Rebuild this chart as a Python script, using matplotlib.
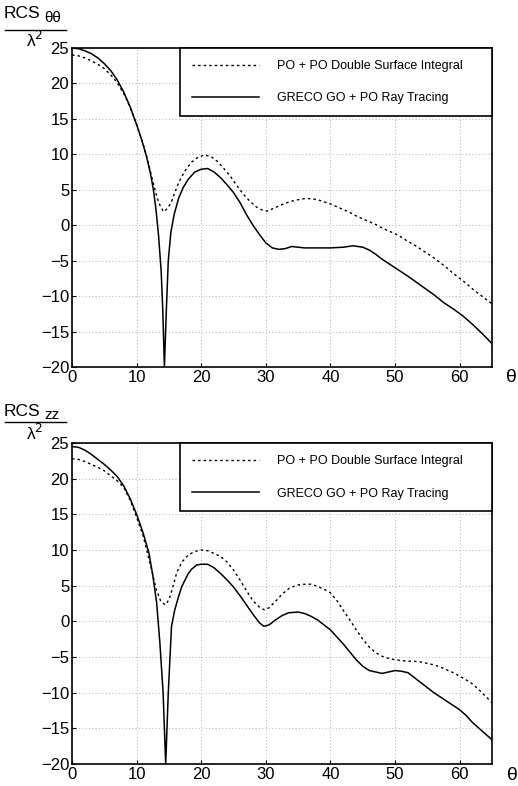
import matplotlib
matplotlib.use("Agg")
import matplotlib.pyplot as plt
from matplotlib.lines import Line2D

plt.rcParams["font.family"] = ["Liberation Sans", "DejaVu Sans"]

# --- RCS theta-theta (top panel) ---
tt_go_theta = [0, 1, 2, 3, 4, 5, 6, 7, 8, 9, 10, 10.8, 11.5, 12.1, 12.6, 13.0, 13.4, 13.8,
               14.05, 14.3, 14.6, 14.9, 15.3, 15.8, 16.5, 17.2, 18, 19, 20, 21, 22, 23,
               24, 25, 26, 27, 28, 29, 30, 31, 32, 33, 34, 35, 36, 38, 40, 42, 43.5, 45,
               46, 47, 48, 49, 50, 52, 54, 56, 57.5, 59, 60.5, 62, 63.5, 65]
tt_go_rcs = [25.0, 24.9, 24.6, 24.2, 23.6, 22.8, 21.8, 20.5, 18.8, 16.7, 14.2, 12.0, 9.8,
             7.5, 5.0, 2.2, -1.5, -6.5, -12.0, -20.0, -12.0, -5.0, -1.0, 1.5, 3.8, 5.3,
             6.5, 7.5, 7.9, 8.0, 7.5, 6.7, 5.7, 4.6, 3.2, 1.5, 0.0, -1.3, -2.5, -3.2,
             -3.4, -3.3, -3.0, -3.1, -3.2, -3.2, -3.2, -3.1, -2.9, -3.1, -3.5, -4.1,
             -4.8, -5.4, -6.0, -7.2, -8.5, -9.8, -10.9, -11.8, -12.8, -14.0, -15.3, -16.7]

tt_po_theta = [0, 1, 2, 3, 4, 5, 6, 7, 8, 9, 10, 10.8, 11.5, 12.1, 12.7, 13.2, 13.7,
               14.2, 14.8, 15.4, 15.9, 16.6, 17.5, 18.5, 19.5, 20.5, 21.5, 22.5, 23.5,
               24.6, 25.5, 26.5, 27.5, 28.5, 29.5, 30.2, 31, 32, 33, 34, 35, 36, 37, 38,
               39, 40, 41, 42, 43, 44, 45, 46, 47, 48, 49, 50, 51, 52, 53, 54, 55, 56, 57,
               58, 59, 60, 61, 62, 63, 64, 65]
tt_po_rcs = [24.0, 23.9, 23.6, 23.2, 22.7, 22.1, 21.2, 20.1, 18.6, 16.6, 14.2, 12.1, 9.9,
             7.7, 5.5, 3.8, 2.6, 1.9, 2.4, 3.3, 4.6, 6.2, 7.7, 8.9, 9.6, 9.9, 9.7, 9.0,
             8.0, 6.8, 5.6, 4.4, 3.4, 2.6, 2.1, 2.0, 2.3, 2.7, 3.1, 3.4, 3.6, 3.75, 3.75,
             3.6, 3.3, 3.0, 2.6, 2.2, 1.8, 1.3, 0.9, 0.5, 0.1, -0.4, -0.8, -1.2, -1.7,
             -2.3, -2.8, -3.4, -4.0, -4.6, -5.3, -6.0, -6.8, -7.5, -8.2, -9.0, -9.7,
             -10.4, -11.1]

# --- RCS zz (bottom panel) ---
zz_go_theta = [0, 1, 2, 3, 4, 5, 6, 7, 8, 9, 10, 11, 11.9, 12.5, 13.1, 13.6, 14.1, 14.5,
               14.9, 15.4, 15.9, 16.5, 17, 18, 18.5, 19.3, 20, 21, 22, 23, 24, 25, 26, 27,
               28, 29, 29.7, 30.5, 31.5, 32.5, 33.5, 35, 36, 37, 38, 39, 40, 41, 42, 43,
               44, 45, 46, 47, 48, 49, 50, 51, 52, 53, 54, 55, 56, 57, 58, 59, 60, 61, 62,
               63, 64, 65]
zz_go_rcs = [24.5, 24.4, 24.0, 23.4, 22.7, 22.0, 21.2, 20.3, 19.0, 17.2, 15.0, 12.4, 9.6,
             6.5, 2.6, -3.0, -10.0, -20.0, -10.0, -0.7, 1.6, 3.5, 4.9, 6.7, 7.3, 7.9,
             8.0, 8.0, 7.5, 6.7, 5.8, 4.8, 3.6, 2.3, 1.0, -0.2, -0.7, -0.5, 0.2, 0.8,
             1.2, 1.3, 1.1, 0.7, 0.2, -0.5, -1.2, -2.2, -3.2, -4.3, -5.4, -6.3, -6.9,
             -7.1, -7.3, -7.1, -6.9, -7.0, -7.2, -7.9, -8.6, -9.3, -10.0, -10.6, -11.2,
             -11.8, -12.4, -13.2, -14.2, -15.0, -15.8, -16.6]

zz_po_theta = [0, 1, 2, 3, 4, 5, 6, 7, 8, 9, 10, 11, 12.3, 13, 13.7, 14.4, 15, 15.6, 16.2,
               17, 18, 19, 20, 21, 22, 23, 24, 25, 26, 27, 28, 29, 29.8, 30.5, 31.5, 32.5,
               33.7, 35, 36, 37, 38, 39, 40, 41, 42, 43, 44, 45, 46, 47, 48, 49, 50, 51,
               52, 53, 54, 55, 56, 57, 58, 59, 60, 61, 62, 63, 64, 65]
zz_po_rcs = [22.8, 22.7, 22.4, 22.0, 21.6, 21.1, 20.4, 19.7, 18.8, 17.0, 14.6, 12.0, 7.3,
             4.6, 2.9, 2.3, 3.0, 4.8, 6.8, 8.3, 9.3, 9.8, 10.0, 9.9, 9.5, 9.1, 8.3, 7.2,
             5.8, 4.3, 2.9, 2.0, 1.6, 1.9, 2.8, 3.8, 4.7, 5.1, 5.2, 5.2, 4.9, 4.5, 4.0,
             2.9, 1.5, 0.2, -1.2, -2.5, -3.6, -4.4, -4.9, -5.2, -5.4, -5.5, -5.6, -5.6,
             -5.7, -5.9, -6.1, -6.4, -6.8, -7.2, -7.7, -8.2, -8.8, -9.6, -10.5, -11.4]

X_TICKS = [0, 10, 20, 30, 40, 50, 60]
Y_TICKS = [-20, -15, -10, -5, 0, 5, 10, 15, 20, 25]
LABEL_PO = "PO + PO Double Surface Integral"
LABEL_GO = "GRECO GO + PO Ray Tracing"

W, H = 518, 786
fig = plt.figure(figsize=(W / 100, H / 100), dpi=100)


def draw_panel(rect, po_t, po_v, go_t, go_v):
    ax = fig.add_axes(rect)
    ax.plot(po_t, po_v, color="black", lw=1.0, linestyle=(0, (1.8, 2.2)), label=LABEL_PO)
    ax.plot(go_t, go_v, color="black", lw=1.1, label=LABEL_GO)
    ax.set_xlim(0, 65)
    ax.set_ylim(-20, 25)
    ax.set_xticks(X_TICKS)
    ax.set_yticks(Y_TICKS)
    ax.grid(True, color="#999999", lw=0.6, linestyle=(0, (1, 3)))
    ax.tick_params(direction="in", length=3, labelsize=12, pad=2, color="black")
    for s in ax.spines.values():
        s.set_linewidth(1.2)
    leg = ax.legend(loc="upper right", bbox_to_anchor=(0.257, 0.0, 0.743, 1.0),
                    mode="expand", borderaxespad=0, fancybox=False, framealpha=1,
                    edgecolor="black", fontsize=9, handlelength=5.4,
                    handletextpad=1.4, labelspacing=1.65, borderpad=0.95)
    leg.get_frame().set_linewidth(1.2)
    return ax


# axes rects from pixel geometry
left = 72 / W
width = (492 - 72) / W
ax1 = draw_panel([left, 1 - 367 / H, width, (367 - 48) / H],
                 tt_po_theta, tt_po_rcs, tt_go_theta, tt_go_rcs)
ax2 = draw_panel([left, 1 - 764 / H, width, (764 - 443) / H],
                 zz_po_theta, zz_po_rcs, zz_go_theta, zz_go_rcs)


def y_fraction_label(y_rcs, y_bar, y_lam, sub):
    fig.text(4 / W, 1 - y_rcs / H, "RCS", fontsize=12.5, ha="left", va="center")
    fig.text(44 / W, 1 - (y_rcs + 4) / H, sub, fontsize=11, ha="left", va="center")
    fig.add_artist(Line2D([5 / W, 66 / W], [1 - y_bar / H, 1 - y_bar / H],
                          color="black", lw=1.0, transform=fig.transFigure))
    fig.text(26 / W, 1 - y_lam / H, "λ$^2$", fontsize=12.5, ha="left", va="center")


y_fraction_label(14, 30, 40, "θθ")
y_fraction_label(411, 422, 433, "zz")

fig.text(511 / W, 1 - 377 / H, "θ", fontsize=14, ha="center", va="center")
fig.text(512 / W, 1 - 776 / H, "θ", fontsize=14, ha="center", va="center")

fig.savefig("out.png", dpi=100)
